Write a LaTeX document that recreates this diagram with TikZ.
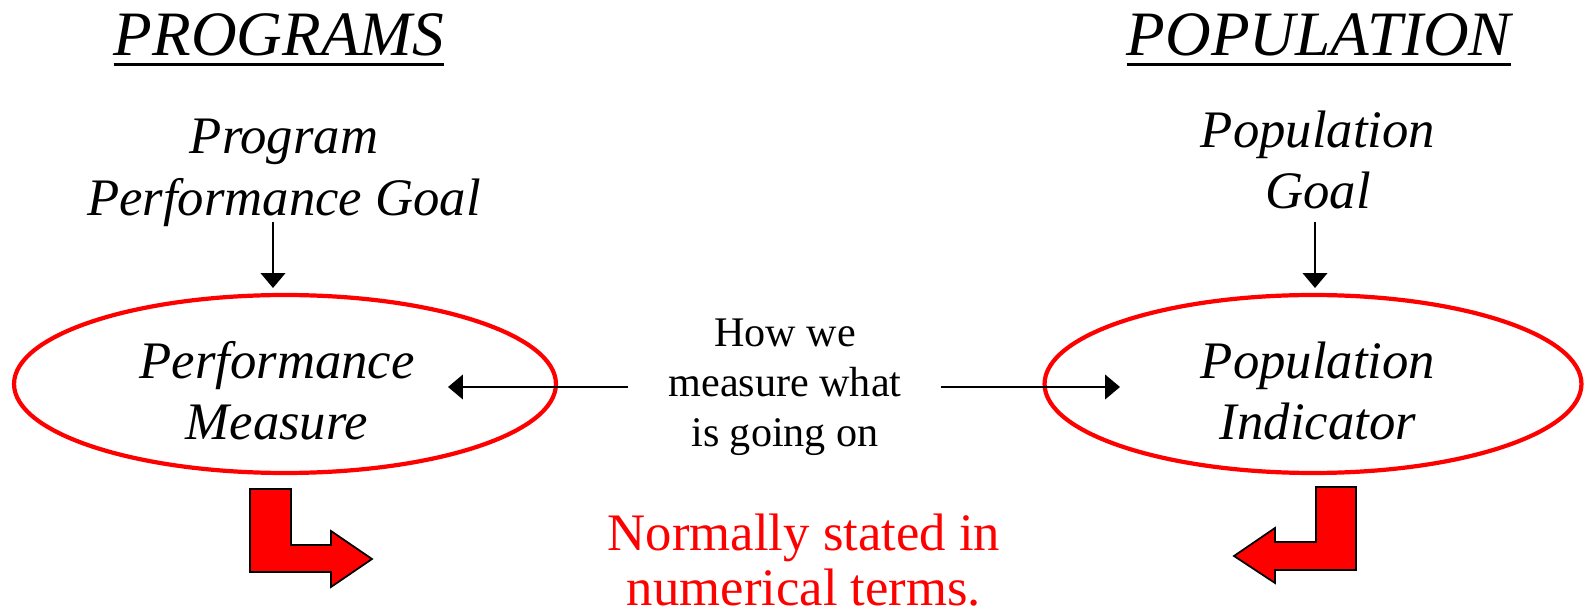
\documentclass[tikz,border=0pt]{standalone}
\usepackage{fontspec}
\setmainfont{Liberation Serif}
\usetikzlibrary{arrows.meta,shapes.geometric}

\begin{document}
\begin{tikzpicture}[
  x=0.02cm,y=-0.02cm,
  ttl/.style={inner sep=0pt,anchor=base,font=\fontsize{36}{40}\selectfont\itshape},
  goal/.style={inner sep=0pt,align=center,font=\fontsize{30}{35}\selectfont\itshape},
  oval/.style={ellipse,draw=red,line width=2.4pt,minimum width=10.84cm,minimum height=3.56cm,inner sep=0pt},
  mid/.style={inner sep=0pt,align=center,font=\fontsize{24}{28.4}\selectfont},
  note/.style={inner sep=0pt,align=center,text=red,font=\fontsize{30}{31}\selectfont},
  arr/.style={-{Triangle[length=8.5pt,width=14pt]},line width=1.1pt},
  bentarrow/.style={fill=red,draw=black,line width=1pt,line join=miter}
  ]
  \useasboundingbox (0,0) rectangle (1585,614);

  % headings
  \node[ttl] (tprog) at (279,56) {PROGRAMS};
  \node[ttl] (tpop) at (1319,56) {POPULATION};
  \foreach \t in {tprog,tpop}{
    \draw[line width=1.5pt] ([yshift=-5pt]\t.base west) -- ([yshift=-5pt]\t.base east);
  }

  % goals
  \node[goal] (pgoal) at (284,173) {Program\\Performance Goal};
  \node[goal] (popgoal) at (1318,160) {Population\\Goal};

  % ovals
  \node[oval] (pm) at (285,384) {};
  \node[oval,minimum width=10.74cm] (pi) at (1313,384) {};
  \node[goal] (pmtxt) at (277,391) {Performance\\Measure};
  \node[goal] (pitxt) at (1318,391) {Population\\Indicator};

  % goal arrows
  \coordinate (pgtail) at (273,222);
  \coordinate (pghead) at (273,288);
  \coordinate (poptail) at (1315,222);
  \coordinate (pophead) at (1315,288);
  \draw[arr] (pgtail) -- (pghead);
  \draw[arr] (poptail) -- (pophead);

  % middle text and arrows
  \node[mid] (how) at (785,387) {How we\\measure what\\is going on};
  \coordinate (pmtip) at (448,387);
  \coordinate (pitip) at (1120,387);
  \draw[arr,shorten <=23pt] (how.west) -- (pmtip);
  \draw[arr,shorten <=22pt] (how.east) -- (pitip);

  % note
  \node[note] (num) at (804,560) {Normally stated in\\numerical terms.};

  % bent arrows
  \draw[bentarrow] (250,489) -- (291,489) -- (291,545) -- (331,545) -- (331,531) -- (372,559)
    -- (331,587) -- (331,572) -- (250,572) -- cycle;
  \draw[bentarrow] (1356,487) -- (1316,487) -- (1316,542) -- (1275,542) -- (1275,528) -- (1234,556)
    -- (1275,583) -- (1275,570) -- (1356,570) -- cycle;
\end{tikzpicture}
\end{document}
